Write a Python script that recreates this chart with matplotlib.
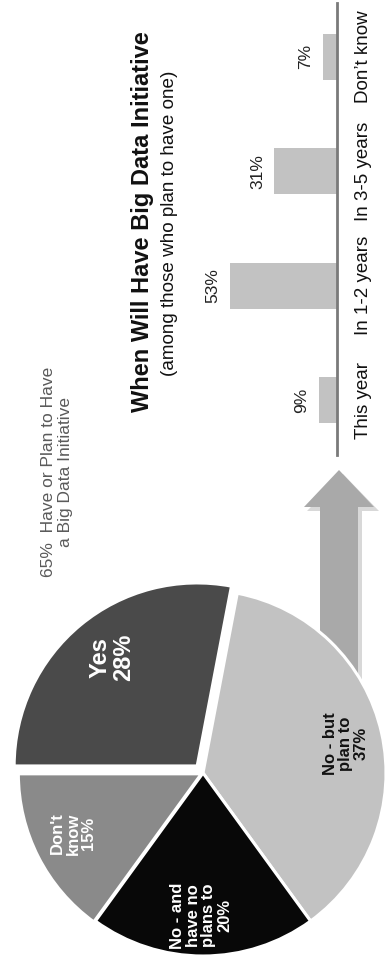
import numpy as np
import matplotlib
matplotlib.use('Agg')
import matplotlib.pyplot as plt
from matplotlib.patches import FancyArrow

plt.rcParams['font.family'] = ['Liberation Sans', 'DejaVu Sans']

# pie data
pie_labels = ['Yes\n28%', 'No - but\nplan to\n37%', 'No - and\nhave no\nplans to\n20%', "Don't\nknow\n15%"]
pie_values = [28, 37, 20, 15]
pie_colors = ['#4a4a4a', '#c2c2c2', '#080808', '#8a8a8a']

# bar data (top to bottom in the picture)
bar_cats = ['This year', 'In 1-2 years', 'In 3-5 years', "Don\u2019t know"]
bar_values = [9, 53, 31, 7]

W, H = 387, 966
fig = plt.figure(figsize=(W / 100, H / 100), dpi=100)
fig.patch.set_facecolor('white')

# background axes in pixel coordinates for arrow and free text
bg = fig.add_axes([0, 0, 1, 1])
bg.set_xlim(0, W)
bg.set_ylim(H, 0)
bg.axis('off')

# shadow + arrow
shadow = FancyArrow(343, 705, 0, -231, width=38, head_width=72, head_length=37,
                    length_includes_head=True, color='#d8d8d8', lw=0)
bg.add_patch(shadow)
arrow = FancyArrow(339, 705, 0, -235, width=38, head_width=70, head_length=37,
                   length_includes_head=True, color='#a9a9a9', lw=0)
bg.add_patch(arrow)

bg.text(57, 472, '65%  Have or Plan to Have\na Big Data Initiative', rotation=90,
        ha='center', va='center', fontsize=12.5, color='#5a5a5a',
        multialignment='center', linespacing=1.1)
bg.text(143, 222, 'When Will Have Big Data Initiative', rotation=90,
        ha='center', va='center', fontsize=17, fontweight='bold', color='#111111')
bg.text(170, 223, '(among those who plan to have one)', rotation=90,
        ha='center', va='center', fontsize=13.6, color='#111111')

# pie axes
cx, cy, r = 203, 773, 183
lim = 1.2
side = 2 * r * lim
pax = fig.add_axes([(cx - side / 2) / W, 1 - (cy + side / 2) / H, side / W, side / H])
wedges, _ = pax.pie(pie_values, colors=pie_colors, startangle=180, counterclock=False,
                    explode=[0.05, 0, 0, 0.01], radius=1,
                    wedgeprops=dict(edgecolor='white', linewidth=2.2))
pax.set_xlim(-lim, lim)
pax.set_ylim(-lim, lim)
pax.set_aspect('equal')
pax.axis('off')

label_pos = [(-0.50, 0.63), (0.78, 0.16), (-0.01, -0.78), (-0.71, -0.33)]
label_colors = ['white', '#111111', 'white', 'white']
label_sizes = [17, 12, 12, 12]
for lab, (px, py), c, s in zip(pie_labels, label_pos, label_colors, label_sizes):
    pax.text(px, py, lab, rotation=90, ha='center', va='center', color=c,
             fontsize=s, fontweight='bold', multialignment='center', linespacing=1.05)

# bar axes: baseline at x=337 px, bars grow to the left
x_left, x_right = 200, 337
y_top, y_bot = 3, 455
bax = fig.add_axes([x_left / W, 1 - y_bot / H, (x_right - x_left) / W, (y_bot - y_top) / H])
scale = 2.02  # px per percent
bax.set_xlim((x_right - x_left) / scale, 0)
pos = np.arange(len(bar_cats))
bax.barh(pos, bar_values, height=0.40, color='#c2c2c2')
bax.set_ylim(-0.48, 3.47)
for sp in ['top', 'bottom', 'left']:
    bax.spines[sp].set_visible(False)
bax.spines['right'].set_color('#7a7a7a')
bax.spines['right'].set_linewidth(2)
bax.set_xticks([])
bax.set_yticks([])
bax.patch.set_alpha(0)
for p, v, cat in zip(pos, bar_values, bar_cats):
    bax.text(v + 8.4, p, f'{v}%', rotation=90, ha='center', va='center',
             fontsize=12.5, color='#222222')
    bax.text(-12.9, p, cat, rotation=90, ha='center', va='center',
             fontsize=13.5, color='#111111', clip_on=False)

fig.savefig('out.png', dpi=100)
